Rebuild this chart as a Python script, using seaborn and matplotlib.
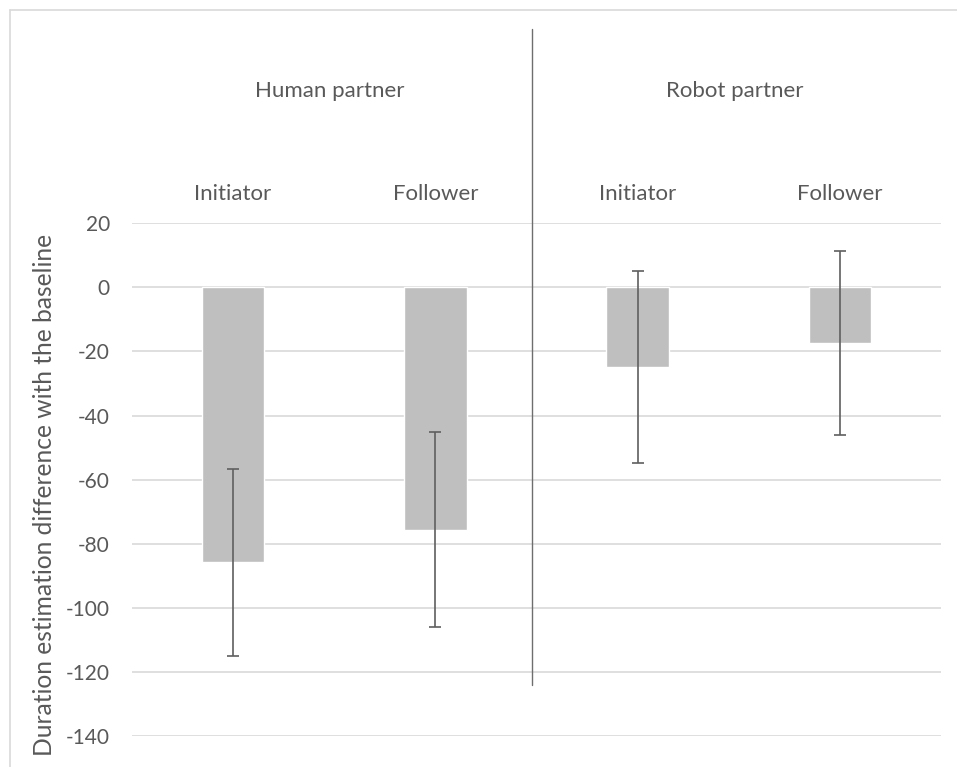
import numpy as np
import pandas as pd
import matplotlib
matplotlib.use("Agg")
import matplotlib.pyplot as plt
from matplotlib.lines import Line2D
import seaborn as sns

# Datos
partners = ["Human partner", "Human partner", "Robot partner", "Robot partner"]
roles = ["Initiator", "Follower", "Initiator", "Follower"]
means = [-85.8, -75.6, -24.9, -17.4]
errors = [29.2, 30.5, 29.9, 28.6]
y_ticks = [20, 0, -20, -40, -60, -80, -100, -120, -140]

df = pd.DataFrame({"partner": partners, "role": roles, "mean": means, "err": errors})
df["key"] = df["partner"] + " / " + df["role"]

sns.set_style("white")
plt.rcParams["font.family"] = ["Lato", "DejaVu Sans"]
plt.rcParams["axes.unicode_minus"] = False

text_col = "#595959"
grid_col = "#D9D9D9"

fig = plt.figure(figsize=(9.57, 7.67), dpi=100)
ax = fig.add_axes([132 / 957, 1 - 736 / 767, 809 / 957, (736 - 223.3) / 767])

sns.barplot(data=df, x="key", y="mean", color="#BFBFBF", width=0.31,
            saturation=1, errorbar=None, ax=ax, zorder=2)
ax.errorbar(np.arange(len(df)), df["mean"], yerr=df["err"], fmt="none",
            ecolor="#5F5F5F", elinewidth=1.2, capsize=4.3, capthick=1.2, zorder=3)

ax.set_xlim(-0.5, len(df) - 0.5)
ax.set_ylim(-140, 20)
ax.set_yticks(y_ticks)
ax.yaxis.grid(True, color=grid_col, linewidth=1.2, zorder=0)
ax.set_axisbelow(True)
for s in ax.spines.values():
    s.set_visible(False)
ax.tick_params(axis="y", length=0, pad=16, labelsize=15, labelcolor=text_col)
ax.set_xticks([])
ax.set_xlabel("")
ax.set_ylabel("Duration estimation difference with the baseline",
              fontsize=17.7, color=text_col)
ax.yaxis.set_label_coords(-0.094, 0.47)

# etiquetas de rol y de grupo (arriba)
for i, r in enumerate(roles):
    ax.text(i, 27.4, r, ha="center", va="baseline", fontsize=16, color=text_col)
for g, xc in [("Human partner", 0.48), ("Robot partner", 2.48)]:
    ax.text(xc, 59.3, g, ha="center", va="baseline", fontsize=16, color=text_col)

# linea separadora
ax.axvline(1.478, ymin=(-124 + 140) / 160, ymax=(80.6 + 140) / 160,
           color="#6E6E6E", linewidth=1.0, clip_on=False, zorder=4)

# marco del grafico
fig.add_artist(Line2D([10 / 957, 10 / 957], [0, 1 - 9.5 / 767], color=grid_col,
                      linewidth=1.2, transform=fig.transFigure))
fig.add_artist(Line2D([10 / 957, 1], [1 - 9.5 / 767, 1 - 9.5 / 767], color=grid_col,
                      linewidth=1.2, transform=fig.transFigure))

fig.savefig("out.png", dpi=100)
